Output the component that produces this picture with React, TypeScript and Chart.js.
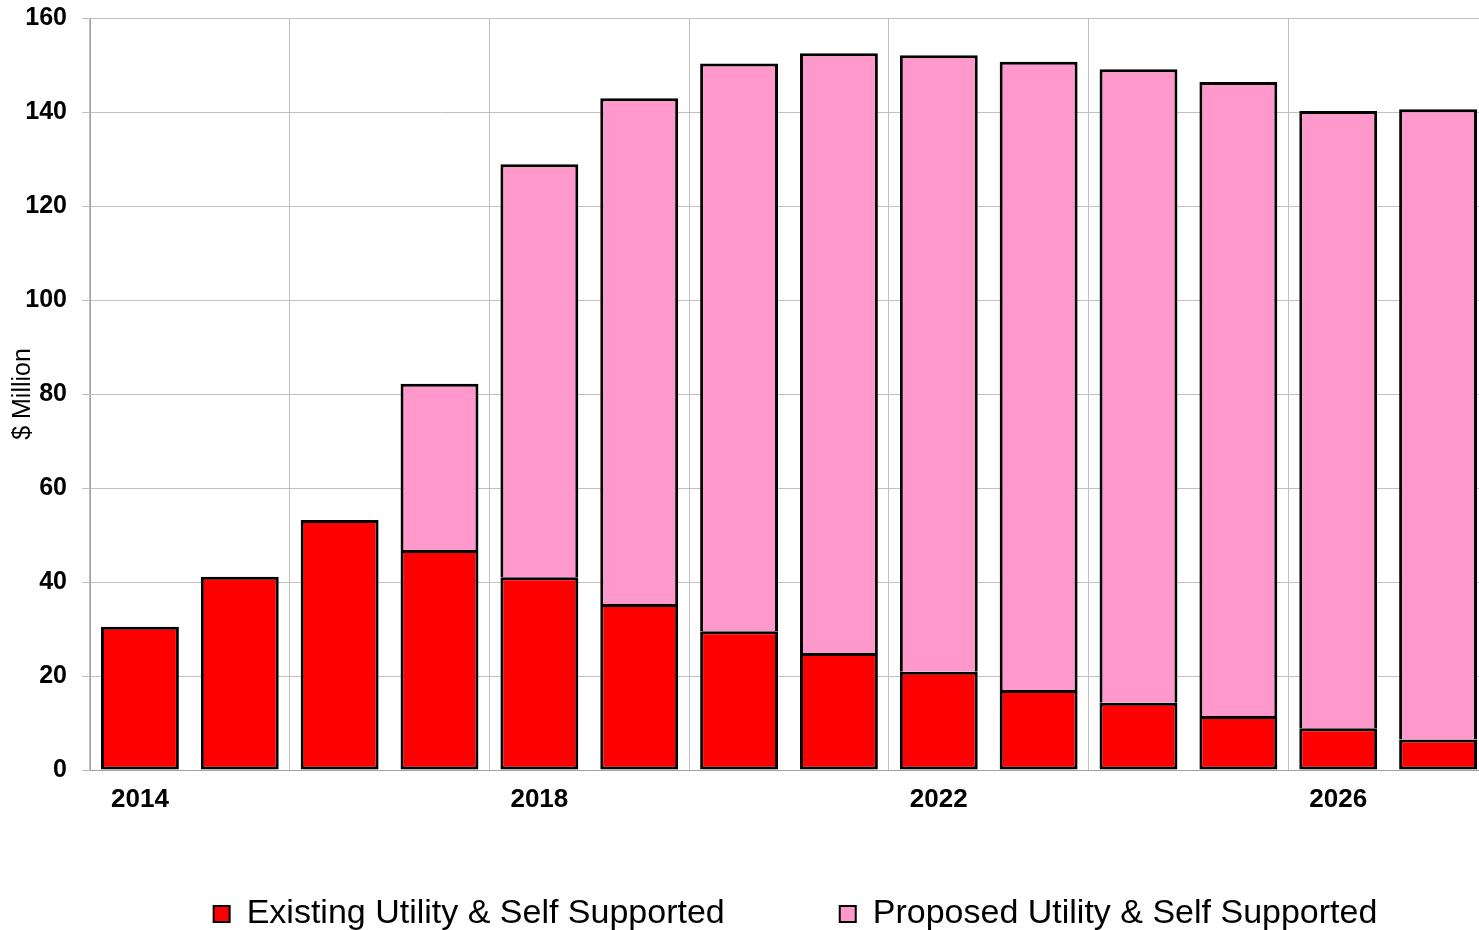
import React, { useEffect, useRef } from "react";
import { Chart, registerables } from "chart.js";

Chart.register(...registerables);

const years = ["2014", "2015", "2016", "2017", "2018", "2019", "2020", "2021", "2022", "2023", "2024", "2025", "2026", "2027"];
const existing = [30.5, 41.1, 53.2, 46.8, 41.0, 35.3, 29.5, 24.9, 20.9, 17.0, 14.3, 11.5, 8.9, 6.5];
const proposed = [null, null, null, 35.4, 87.9, 107.6, 120.8, 127.6, 131.2, 133.7, 134.8, 134.9, 131.3, 134.1];
const yTicks = { min: 0, max: 160, step: 20 };
const seriesNames = ["Existing Utility & Self Supported", "Proposed Utility & Self Supported"];
const yTitle = "$ Million";

const FONT = "'Liberation Sans', Arial, Helvetica, sans-serif";

export default function App() {
  const ref = useRef<HTMLCanvasElement | null>(null);

  useEffect(() => {
    document.body.style.margin = "0";
    const canvas = ref.current;
    if (!canvas) return;
    const chart = new Chart(canvas, {
      type: "bar",
      data: {
        labels: years,
        datasets: [
          {
            label: seriesNames[0],
            data: existing,
            backgroundColor: "#FF0000",
            borderColor: "#000000",
            borderWidth: 3,
            borderSkipped: false,
            barPercentage: 0.78,
            categoryPercentage: 1,
          },
          {
            label: seriesNames[1],
            data: proposed as any,
            backgroundColor: "#FF99CC",
            borderColor: "#000000",
            borderWidth: { top: 3, left: 3, right: 3, bottom: 0 },
            borderSkipped: false,
            barPercentage: 0.78,
            categoryPercentage: 1,
          },
        ],
      },
      options: {
        responsive: false,
        animation: false,
        devicePixelRatio: 1,
        layout: { padding: { top: 18, left: 0, right: 0, bottom: 0 } },
        plugins: {
          tooltip: { enabled: false },
          legend: {
            display: true,
            position: "bottom",
            align: "center",
            labels: {
              color: "#000",
              font: { family: FONT, size: 34 },
              boxWidth: 16,
              boxHeight: 16,
              padding: 115,
              generateLabels: (c: any) => {
                const items = Chart.defaults.plugins.legend.labels.generateLabels(c);
                return items.map((it: any) => ({ ...it, lineWidth: 2 }));
              },
            },
          },
        },
        scales: {
          x: {
            stacked: true,
            offset: true,
            grid: {
              display: true,
              offset: true,
              drawTicks: false,
              color: (ctx: any) => (typeof ctx.index === "number" && ctx.index % 2 === 0 ? "#c0c0c0" : "rgba(0,0,0,0)"),
            },
            border: { display: true, color: "#a0a0a0", width: 1 },
            ticks: {
              autoSkip: false,
              maxRotation: 0,
              minRotation: 0,
              mirror: true,
              padding: -45,
              color: "#000",
              font: { family: FONT, size: 26, weight: "bold" },
              callback: (_v: any, i: number) => (i % 4 === 0 ? years[i] : ""),
            },
            afterFit: (s: any) => {
              s.height = 12;
              s.paddingLeft = 0;
              s.paddingRight = 0;
            },
          },
          y: {
            stacked: true,
            min: yTicks.min,
            max: yTicks.max,
            ticks: {
              stepSize: yTicks.step,
              padding: 15,
              color: "#000",
              font: { family: FONT, size: 25, weight: "bold" },
            },
            grid: { color: "#c0c0c0", tickLength: 8, drawTicks: true },
            border: { display: true, color: "#a0a0a0", width: 1 },
            title: {
              display: true,
              text: yTitle,
              color: "#000",
              font: { family: FONT, size: 25 },
              padding: { top: 8, bottom: 0 },
            },
            afterFit: (s: any) => {
              s.width = 90;
              s.paddingTop = 0;
              s.paddingBottom = 0;
            },
          },
          y2: {
            type: "linear",
            position: "right",
            display: true,
            grid: { display: false, drawTicks: false },
            border: { display: false },
            ticks: { display: false },
            afterFit: (s: any) => {
              s.width = 103;
              s.paddingTop = 0;
              s.paddingBottom = 0;
            },
          },
        },
      } as any,
    });
    return () => chart.destroy();
  }, []);

  return (
    <div style={{ position: "relative", width: 1479, height: 930, overflow: "hidden", background: "#fff" }}>
      <canvas ref={ref} width={1591} height={941} style={{ display: "block", width: 1591, height: 941 }} />
    </div>
  );
}
